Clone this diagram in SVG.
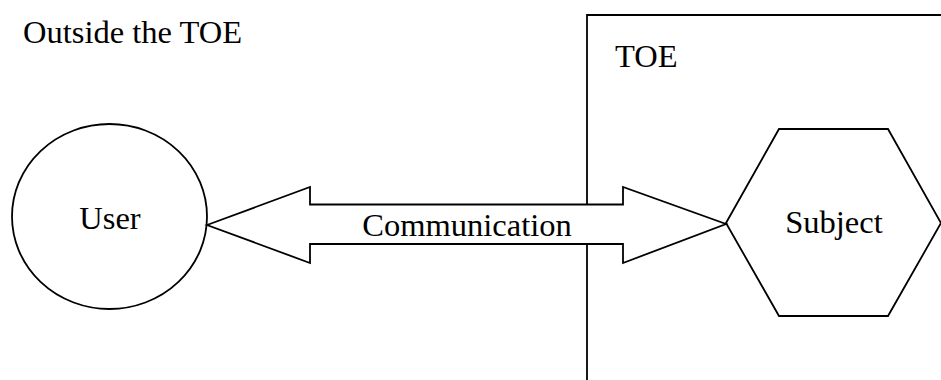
<svg xmlns="http://www.w3.org/2000/svg" width="941" height="380" viewBox="0 0 941 380">
<style>
.s{fill:#fff;stroke:#000;stroke-width:1.8;stroke-linejoin:miter}
.t{font-family:'Liberation Serif','Times New Roman',serif;font-size:32.5px;fill:#000}
</style>
<rect width="941" height="380" fill="#fff"/>
<g id="toe-boundary">
<path d="M587,380 V15 H942" fill="none" stroke="#000" stroke-width="1.8"/>
<text class="t" x="615" y="67">TOE</text>
</g>
<text class="t" x="23" y="43">Outside the TOE</text>
<g id="user">
<ellipse class="s" cx="109.5" cy="216.5" rx="97.5" ry="92.5"/>
<text class="t" x="110" y="229" text-anchor="middle">User</text>
</g>
<g id="subject">
<polygon class="s" points="726,223 779,129 888,129 941,223 888,316 779,316"/>
<text class="t" x="834" y="233" text-anchor="middle">Subject</text>
</g>
<g id="connectors">
<polygon class="s" points="207,225 310,187 310,204.5 623,204.5 623,187 726,224 623,263 623,244 310,244 310,263"/>
<text class="t" x="467" y="236" text-anchor="middle">Communication</text>
</g>
</svg>
